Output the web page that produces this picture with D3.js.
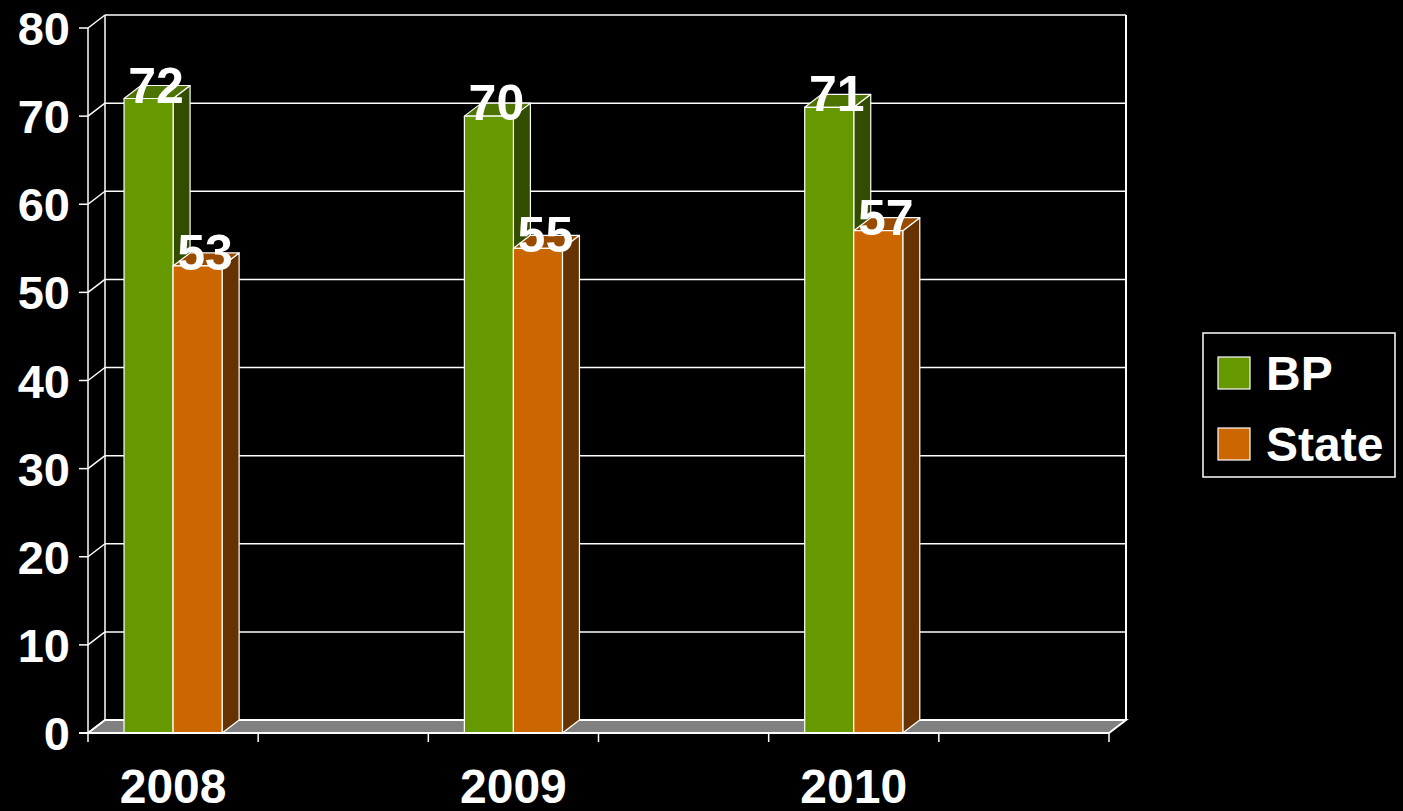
<!DOCTYPE html>
<html>
<head>
<meta charset="utf-8">
<script src="https://cdn.jsdelivr.net/npm/d3@7"></script>
<style>
  html, body { margin: 0; padding: 0; background: #000; }
  svg { display: block; font-family: "Liberation Sans", Arial, sans-serif; font-weight: bold; }
</style>
</head>
<body>
<svg width="1403" height="811"></svg>
<script>
// data
const years = ["2008", "2009", "2010"];
const seriesNames = ["BP", "State"];
const bpValues = [72, 70, 71];
const stateValues = [53, 55, 57];
const yTicks = [0, 10, 20, 30, 40, 50, 60, 70, 80];

const frontColor = { BP: "#669900", State: "#cc6600" };
const topColor = { BP: "#4d7300", State: "#994c00" };
const sideColor = { BP: "#334d00", State: "#663300" };

// every year is followed by an empty slot, like the original sheet
const slots = years.flatMap(y => [y, y + "_blank"]);

const svg = d3.select("svg");

const plotLeft = 88, plotRight = 1109, plotTop = 28, plotBottom = 733;
const dx = 17, dy = -13; // depth offset of the back wall

const x = d3.scaleBand().domain(slots).range([plotLeft, plotRight]);
const xInner = d3.scaleBand().domain(seriesNames)
  .range([0, x.bandwidth()]).paddingOuter(0.735);
const y = d3.scaleLinear().domain([0, 80]).range([plotBottom, plotTop]);

const rows = years.map((yr, i) => ({ year: yr, BP: bpValues[i], State: stateValues[i] }));

const line = (x1, y1, x2, y2, w) => svg.append("line")
  .attr("x1", x1).attr("y1", y1).attr("x2", x2).attr("y2", y2)
  .attr("stroke", "#fff").attr("stroke-width", w || 1.5);

// back wall grid
yTicks.forEach(t => {
  if (t > 0) line(plotLeft + dx, y(t) + dy, plotRight + dx, y(t) + dy);
  line(plotLeft, y(t), plotLeft + dx, y(t) + dy); // left wall
});
line(plotLeft + dx, y(80) + dy, plotLeft + dx, y(0) + dy);
line(plotRight + dx, y(80) + dy, plotRight + dx, y(0) + dy, 2);

// floor
svg.append("path")
  .attr("d", d3.line()([[plotLeft, plotBottom], [plotLeft + dx, plotBottom + dy], [plotRight + dx, plotBottom + dy], [plotRight, plotBottom]]) + "Z")
  .attr("fill", "#808080").attr("stroke", "#fff").attr("stroke-width", 2);

// bars
rows.forEach(r => {
  seriesNames.forEach(s => {
    const x0 = x(r.year) + xInner(s), w = xInner.bandwidth();
    const y0 = y(r[s]), yb = y(0);
    const g = svg.append("g").attr("stroke", "#fff").attr("stroke-width", 1.2).attr("stroke-linejoin", "round");
    g.append("path")
      .attr("d", d3.line()([[x0 + w, y0], [x0 + w + dx, y0 + dy], [x0 + w + dx, yb + dy], [x0 + w, yb]]) + "Z")
      .attr("fill", sideColor[s]);
    g.append("path")
      .attr("d", d3.line()([[x0, y0], [x0 + dx, y0 + dy], [x0 + w + dx, y0 + dy], [x0 + w, y0]]) + "Z")
      .attr("fill", topColor[s]);
    g.append("rect")
      .attr("x", x0).attr("y", y0).attr("width", w).attr("height", yb - y0)
      .attr("fill", frontColor[s]);
  });
});

// front axes
line(plotLeft, plotTop, plotLeft, plotBottom + 9);
line(plotLeft - 9, plotBottom, plotRight, plotBottom, 2);
yTicks.forEach(t => line(plotLeft - 9, y(t), plotLeft, y(t)));
slots.forEach(s => line(x(s) + x.bandwidth(), plotBottom, x(s) + x.bandwidth(), plotBottom + 9));

svg.append("g").selectAll("text").data(yTicks).join("text")
  .attr("x", 70).attr("y", d => y(d) + 17)
  .attr("text-anchor", "end").attr("font-size", 47).attr("fill", "#fff")
  .text(d => d);

svg.append("g").selectAll("text").data(years).join("text")
  .attr("x", d => x(d) + x.bandwidth() / 2).attr("y", 803)
  .attr("text-anchor", "middle").attr("font-size", 48).attr("fill", "#fff")
  .text(d => d);

// data labels
rows.forEach(r => {
  seriesNames.forEach(s => {
    svg.append("text")
      .attr("x", x(r.year) + xInner(s) + xInner.bandwidth() / 2 + dx / 2 - 1)
      .attr("y", y(r[s]) + 4)
      .attr("text-anchor", "middle").attr("font-size", 50).attr("fill", "#fff")
      .text(r[s]);
  });
});

// legend
const legend = svg.append("g");
legend.append("rect")
  .attr("x", 1203).attr("y", 333).attr("width", 192).attr("height", 144)
  .attr("fill", "#000").attr("stroke", "#fff").attr("stroke-width", 1.5);
seriesNames.forEach((s, i) => {
  const cy = 373 + i * 71;
  legend.append("rect")
    .attr("x", 1218).attr("y", cy - 16).attr("width", 32).attr("height", 32)
    .attr("fill", frontColor[s]).attr("stroke", "#fff").attr("stroke-width", 1.2);
  legend.append("text")
    .attr("x", 1266).attr("y", cy + 17)
    .attr("font-size", 48).attr("fill", "#fff")
    .text(s);
});
</script>
</body>
</html>
